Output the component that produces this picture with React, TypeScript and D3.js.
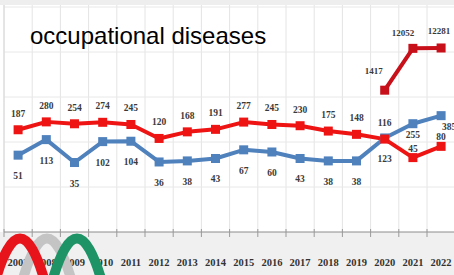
import * as d3 from 'd3';
import React from 'react';

// categories
const years = ['2007', '2008', '2009', '2010', '2011', '2012', '2013', '2014', '2015', '2016', '2017', '2018', '2019', '2020', '2021', '2022'];
// red series (old definition)
const redValues = [187, 280, 254, 274, 245, 120, 168, 191, 277, 245, 230, 175, 148, 116, 45, 80];
// blue series
const blueValues = [51, 113, 35, 102, 104, 36, 38, 43, 67, 60, 43, 38, 38, 123, 255, 385];
// dark red series (covid era)
const covidValues: (number | null)[] = [null, null, null, null, null, null, null, null, null, null, null, null, null, 1417, 12052, 12281];
const gridTicks = [10, 100, 1000, 10000, 100000];

const W = 454, H = 275;

function App() {
  const x = d3.scaleBand().domain(years).range([4, 4 + 28.2 * years.length]).padding(0);
  const y = d3.scaleLog().domain([1, 100000]).range([232, 7]);
  const cx = (yr: string) => (x(yr) as number) + x.bandwidth() / 2;

  const line = d3.line<[string, number | null]>()
    .defined(d => d[1] != null)
    .x(d => cx(d[0]))
    .y(d => y(d[1] as number));

  const red = years.map((yr, i) => [yr, redValues[i]] as [string, number | null]);
  const blue = years.map((yr, i) => [yr, blueValues[i]] as [string, number | null]);
  const covid = years.map((yr, i) => [yr, covidValues[i]] as [string, number | null]);

  const RED = '#ee1414', BLUE = '#4f81bd', DARK = '#c8101a';

  // label offsets: red above, blue below; a few nudged near the crossing
  const redLabel = (i: number) => (i === 14 || i === 15 ? -6 : -13);
  const blueLabel = (i: number) => (i === 14 || i === 15 ? 14 : 24);
  const covidDx = [-11, -10, -2];
  const covidDy = [-16, -12, -14];

  const arches = [
    { c: 47, color: '#c4c4c4' },
    { c: 77, color: '#1e9466' },
    { c: 20, color: '#e8141c' },
  ];

  return (
    <svg width={W} height={H} style={{ position: 'absolute', left: 0, top: 0, background: '#fff' }}>
      <rect x={0} y={0} width={W} height={5} fill="#eeeeee" />
      <rect x={0} y={232} width={W} height={H - 232} fill="#f0f0f0" />
      {/* grid */}
      {years.map(yr => (
        <line key={'v' + yr} x1={x(yr)} x2={x(yr)} y1={5} y2={232} stroke="#e4e4e4" />
      ))}
      {gridTicks.map(t => (
        <line key={'h' + t} x1={4} x2={W} y1={y(t)} y2={y(t)} stroke="#e8e8e8" />
      ))}
      <line x1={4} x2={4} y1={5} y2={232} stroke="#d8d8d8" />
      {/* x axis */}
      <line x1={4} x2={W} y1={232} y2={232} stroke="#8c8c8c" />
      {years.map(yr => (
        <line key={'t' + yr} x1={x(yr)} x2={x(yr)} y1={229} y2={237} stroke="#9a9a9a" />
      ))}
      {years.map(yr => (
        <text key={'l' + yr} x={cx(yr)} y={266} textAnchor="middle" fontFamily="Liberation Serif" fontWeight="bold" fontSize={10.5} fill="#333">{yr}</text>
      ))}

      <text x={30} y={44} fontFamily="Liberation Sans" fontSize={24} fill="#000">occupational diseases</text>

      {/* lines */}
      <path d={line(red) || ''} fill="none" stroke={RED} strokeWidth={4} strokeLinejoin="round" />
      <path d={line(blue) || ''} fill="none" stroke={BLUE} strokeWidth={4} strokeLinejoin="round" />
      <path d={line(covid) || ''} fill="none" stroke={DARK} strokeWidth={4} strokeLinejoin="round" />
      {blue.map(([yr, v]) => (
        <rect key={'bm' + yr} x={cx(yr) - 4.5} y={y(v as number) - 4.5} width={9} height={9} fill={BLUE} />
      ))}
      {red.map(([yr, v]) => (
        <rect key={'rm' + yr} x={cx(yr) - 4.5} y={y(v as number) - 4.5} width={9} height={9} fill={RED} />
      ))}
      {covid.filter(d => d[1] != null).map(([yr, v]) => (
        <rect key={'cm' + yr} x={cx(yr) - 4.5} y={y(v as number) - 4.5} width={9} height={9} fill={DARK} />
      ))}

      {/* data labels */}
      {red.map(([yr, v], i) => (
        <text key={'rl' + yr} x={cx(yr)} y={y(v as number) + redLabel(i)} textAnchor="middle" fontFamily="Liberation Serif" fontWeight="bold" fontSize={9.5} fill="#3a3a3a">{v}</text>
      ))}
      {blue.map(([yr, v], i) => (
        <text key={'bl' + yr} x={cx(yr) + (i === 15 ? 8 : 0)} y={y(v as number) + blueLabel(i)} textAnchor="middle" fontFamily="Liberation Serif" fontWeight="bold" fontSize={9.5} fill="#3a3a3a">{v}</text>
      ))}
      {covid.filter(d => d[1] != null).map(([yr, v], i) => (
        <text key={'cl' + yr} x={cx(yr) + covidDx[i]} y={y(v as number) + covidDy[i]} textAnchor="middle" fontFamily="Liberation Serif" fontWeight="bold" fontSize={9} fill="#3a3a3a">{v}</text>
      ))}

      {/* logo */}
      {arches.map(a => (
        <path key={a.color} d={`M${a.c - 25},282 Q${a.c},195 ${a.c + 25},282`} fill="none" stroke={a.color} strokeWidth={10} />
      ))}
    </svg>
  );
}

export default App;
